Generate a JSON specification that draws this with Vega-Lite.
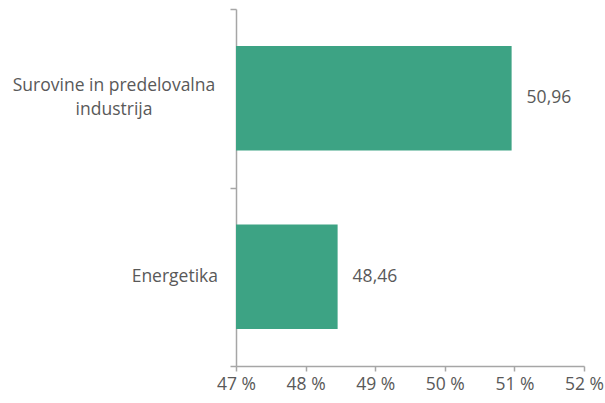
{
  "$schema": "https://vega.github.io/schema/vega-lite/v6.json",
  "width": 348,
  "height": 357,
  "autosize": "none",
  "padding": {"left": 236, "top": 9, "right": 21, "bottom": 37},
  "config": {
    "view": {"stroke": null},
    "font": "Open Sans",
    "locale": {"number": {"decimal": ",", "thousands": ".", "grouping": [3], "currency": ["", " €"]}}
  },
  "data": {"values": [
    {"sektor": "Surovine in predelovalna industrija", "vrednost": 50.96},
    {"sektor": "Energetika", "vrednost": 48.46}
  ]},
  "encoding": {
    "y": {
      "field": "sektor", "type": "nominal", "sort": null,
      "scale": {"paddingInner": 0, "paddingOuter": 0},
      "axis": {
        "title": null,
        "labels": false,
        "tickBand": "extent",
        "domainColor": "#A6A6A6", "domainWidth": 1.5,
        "tickColor": "#A6A6A6", "tickWidth": 1.5, "tickSize": 6
      }
    }
  },
  "layer": [
    {
      "mark": {"type": "bar", "color": "#3DA384", "clip": true, "height": {"band": 0.585}},
      "encoding": {
        "x": {
          "field": "vrednost", "type": "quantitative",
          "scale": {"domain": [47, 52], "nice": false, "zero": false},
          "axis": {
            "title": null, "grid": false, "values": [47, 48, 49, 50, 51, 52],
            "labelExpr": "datum.value + ' %'", "labelFlush": false, "labelOverlap": false,
            "domainColor": "#A6A6A6", "domainWidth": 1.5,
            "tickColor": "#A6A6A6", "tickWidth": 1.5, "tickSize": 5,
            "labelFont": "Open Sans", "labelFontSize": 17.5, "labelColor": "#595959",
            "labelPadding": 4
          }
        }
      }
    },
    {
      "mark": {"type": "text", "align": "left", "dx": 15, "font": "Open Sans", "fontSize": 17.5, "color": "#595959"},
      "encoding": {
        "x": {"field": "vrednost", "type": "quantitative"},
        "text": {"field": "vrednost", "type": "quantitative", "format": ".2f"}
      }
    },
    {
      "transform": [{"filter": "datum.sektor == 'Surovine in predelovalna industrija'"}],
      "mark": {"type": "text", "align": "center", "baseline": "middle", "dx": -122, "dy": -12, "lineHeight": 24, "font": "Open Sans", "fontSize": 17.5, "color": "#595959"},
      "encoding": {
        "x": {"datum": 47},
        "text": {"value": ["Surovine in predelovalna", "industrija"]}
      }
    },
    {
      "transform": [{"filter": "datum.sektor == 'Energetika'"}],
      "mark": {"type": "text", "align": "right", "baseline": "middle", "dx": -18, "font": "Open Sans", "fontSize": 17.5, "color": "#595959"},
      "encoding": {
        "x": {"datum": 47},
        "text": {"field": "sektor"}
      }
    }
  ]
}
